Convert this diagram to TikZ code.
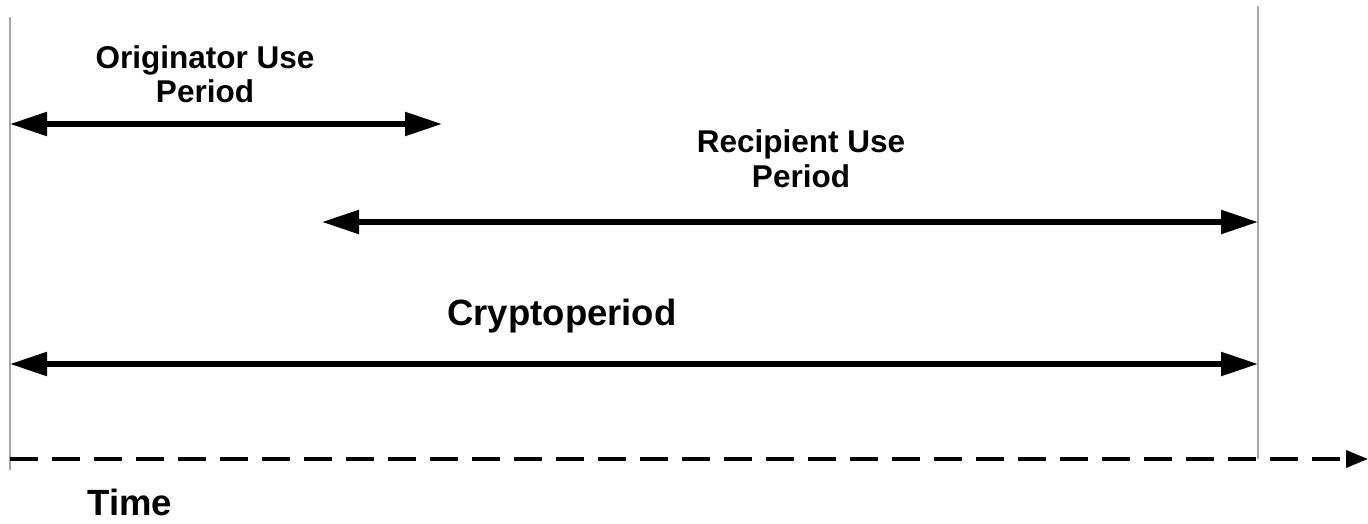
\documentclass[tikz,border=0pt]{standalone}
\usepackage{fontspec}
\setmainfont{Liberation Sans}
\usetikzlibrary{arrows.meta}
\tikzset{
  bound/.style={draw=black!35, line width=1.6pt},
  period/.style={line width=5.5pt, {Triangle[length=37pt,width=23pt]}-{Triangle[length=37pt,width=23pt]}},
  timeline/.style={line width=3.5pt, dash pattern=on 28pt off 14pt, -{Triangle[length=22pt,width=17pt]}},
  lbl/.style={inner sep=0pt, align=center, font=\bfseries\fontsize{31.5}{35}\selectfont},
  biglbl/.style={inner sep=0pt, font=\bfseries\fontsize{36.5}{40}\selectfont},
}
\begin{document}
\begin{tikzpicture}[x=1pt, y=-1pt]
  \useasboundingbox (0,0) rectangle (1368,524);

  % start and end of the cryptoperiod
  \coordinate (s0) at (10,17);
  \coordinate (s1) at (10,470);
  \coordinate (e0) at (1258,6);
  \coordinate (e1) at (1258,459);
  \draw[bound] (s0) -- (s1);
  \draw[bound] (e0) -- (e1);

  % usage periods
  \coordinate (oa) at (10,124);
  \coordinate (ob) at (442,124);
  \coordinate (ra) at (322,222);
  \coordinate (rb) at (1258,222);
  \coordinate (ca) at (10,364);
  \coordinate (cb) at (1258,364);
  \draw[period] (oa) -- (ob);
  \draw[period] (ra) -- (rb);
  \draw[period] (ca) -- (cb);

  % labels (base anchor sits on the last line)
  \node[lbl, anchor=base] (orig) at (205,103) {Originator Use\\Period};
  \node[lbl, anchor=base] (reci) at (801,187) {Recipient Use\\Period};
  \node[biglbl, anchor=base] (crypto) at (562,325) {Cryptoperiod};

  % time axis
  \coordinate (ta) at (10,459);
  \coordinate (tb) at (1368,459);
  \draw[timeline] (ta) -- (tb);
  \node[biglbl, anchor=base] (time) at (130,515) {Time};
\end{tikzpicture}
\end{document}
